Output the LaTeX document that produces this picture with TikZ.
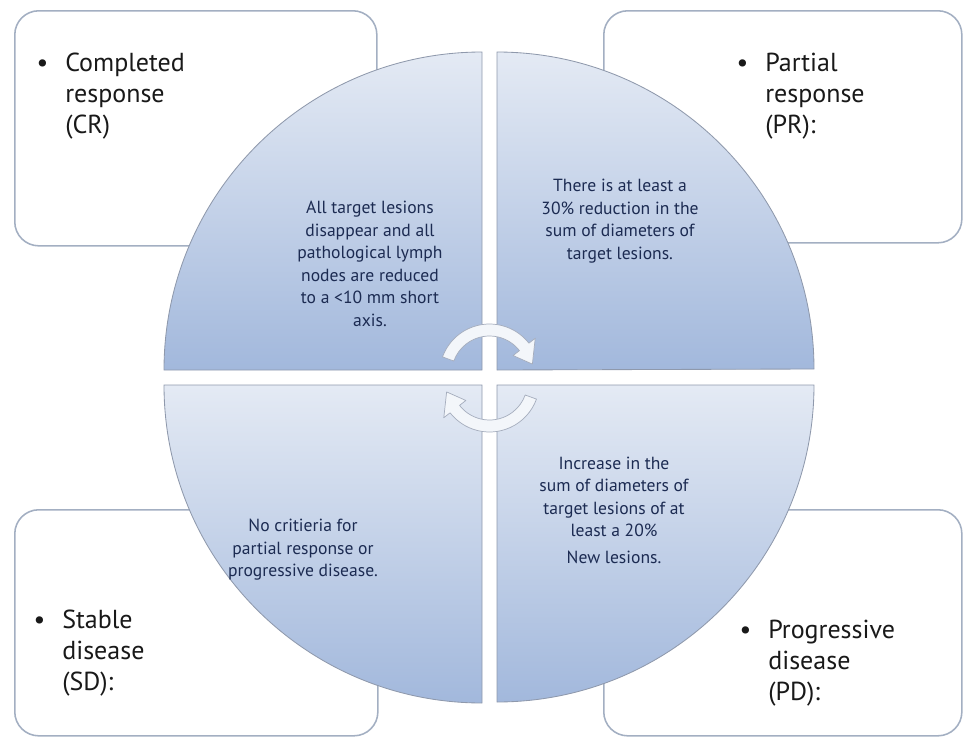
\documentclass[tikz,border=0pt]{standalone}
\usepackage{fontspec}
\setmainfont{PT Sans}
\usepackage{tikz}
\usetikzlibrary{positioning, calc}
\definecolor{marco}{HTML}{A3AFC2}
\definecolor{borde}{HTML}{8F99AC}
\definecolor{claro}{HTML}{E4EAF4}
\definecolor{oscuro}{HTML}{A2B8DC}
\definecolor{texto}{HTML}{1C2B52}
\definecolor{blanco}{HTML}{F3F6FA}

\begin{document}
\begin{tikzpicture}[
            % Coordenadas en pixeles (y hacia abajo)
            x=0.025cm, y=-0.025cm,
            every node/.style={inner sep=0pt},
            % Estilos
            caja/.style={rectangle, rounded corners=0.6cm, draw=marco, line width=1.1pt, fill=white, anchor=north west},
            cuadrante/.style={draw=borde, line width=0.6pt, top color=claro, bottom color=oscuro},
            tarjeta/.style={align=left, anchor=base west, text=black!90, font=\fontsize{18.5}{22}\selectfont},
            desc/.style={align=center, text=texto, font=\fontsize{12.5}{16}\selectfont},
            flechacurva/.style={fill=blanco, draw=borde!80, line width=0.5pt, line join=round}
        ]
            \useasboundingbox (0,0) rectangle (963,737);

            % Cajas de las cuatro categorias
            \node (crbox) [caja, minimum width=9.05cm, minimum height=5.875cm] at (14,10) {};
            \node (prbox) [caja, minimum width=8.95cm, minimum height=5.8cm] at (603,10) {};
            \node (sdbox) [caja, minimum width=9.075cm, minimum height=5.65cm] at (14,509) {};
            \node (pdbox) [caja, minimum width=8.95cm, minimum height=5.65cm] at (603,509) {};

            % Circulo partido en cuatro cuadrantes
            \draw [cuadrante] (482,370) -- (164,370) arc[start angle=180, end angle=270, radius=318] -- cycle;
            \draw [cuadrante] (497,370) -- (497,52) arc[start angle=270, end angle=360, radius=317] -- cycle;
            \draw [cuadrante] (482,385) -- (482,703) arc[start angle=90, end angle=180, radius=318] -- cycle;
            \draw [cuadrante] (497,385) -- (814,385) arc[start angle=0, end angle=90, radius=317] -- cycle;

            % Titulos con vineta (base = ultima linea)
            \node (crtxt) [tarjeta] at (65,133) {\llap{\textbullet\hspace{12pt}}Completed\\response\\(CR)};
            \node (prtxt) [tarjeta] at (765,133) {\llap{\textbullet\hspace{12pt}}Partial\\response\\(PR):};
            \node (sdtxt) [tarjeta] at (62,690) {\llap{\textbullet\hspace{12pt}}Stable\\disease\\(SD):};
            \node (pdtxt) [tarjeta] at (768,700) {\llap{\textbullet\hspace{12pt}}Progressive\\disease\\(PD):};

            % Flechas del ciclo en el centro
            \begin{scope}[shift={(489.5,374)}]
                \filldraw [flechacurva] (200:50) arc[start angle=200, end angle=322, radius=50]
                    -- (322:58) -- (347:44) -- (322:30) -- (322:38)
                    arc[start angle=322, end angle=200, radius=38] -- cycle;
            \end{scope}
            \begin{scope}[shift={(489.5,382)}]
                \filldraw [flechacurva] (20:50) arc[start angle=20, end angle=142, radius=50]
                    -- (142:58) -- (167:44) -- (142:30) -- (142:38)
                    arc[start angle=142, end angle=20, radius=38] -- cycle;
            \end{scope}

            % Descripciones dentro de cada cuadrante
            \node (crdesc) [desc] at (370,264) {All target lesions\\disappear and all\\pathological lymph\\nodes are reduced\\to a <10 mm short\\axis.};
            \node (prdesc) [desc] at (620,221) {There is at least a\\30\% reduction in the\\sum of diameters of\\target lesions.};
            \node (sddesc) [desc] at (303,550) {No critieria for\\partial response or\\progressive disease.};
            \node (pddesc) [desc] at (614,510) {Increase in the\\sum of diameters of\\target lesions of at\\least a 20\%\\[3pt]New lesions.};

        \end{tikzpicture}
\end{document}
